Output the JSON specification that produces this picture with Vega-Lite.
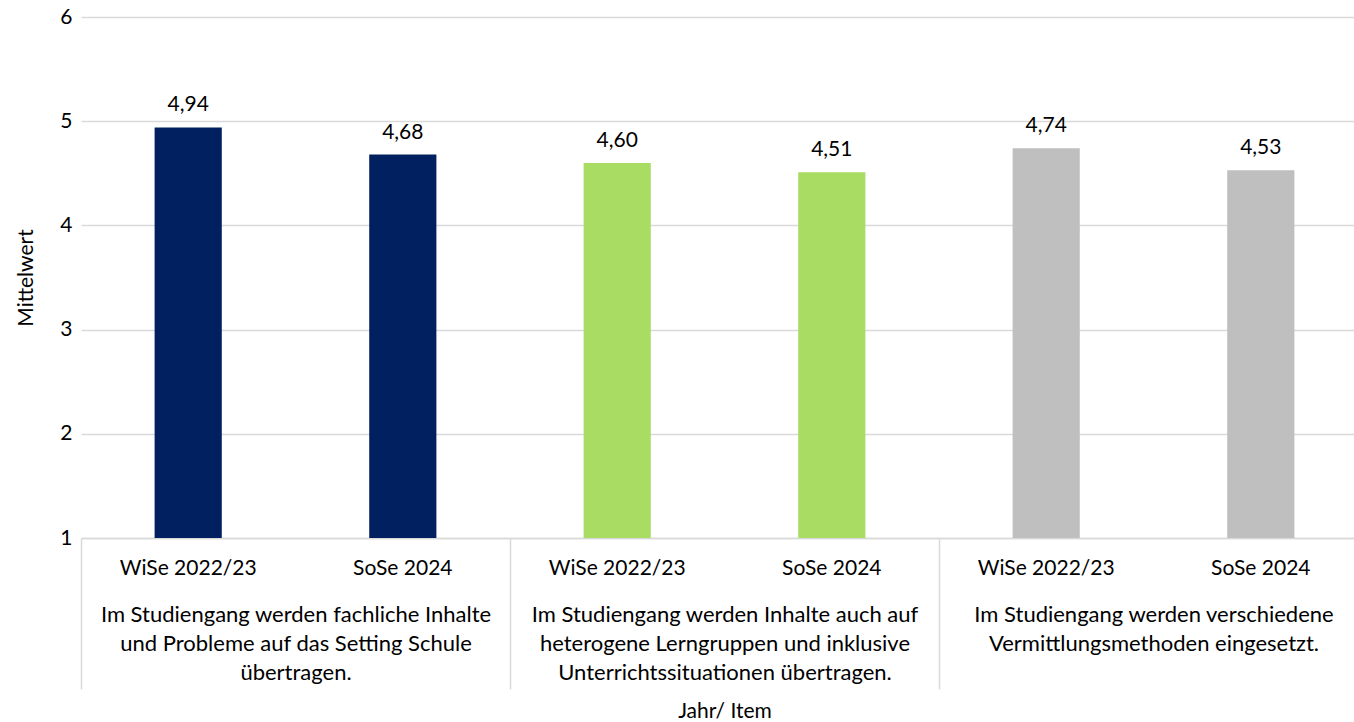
{
  "$schema": "https://vega.github.io/schema/vega-lite/v6.json",
  "width": 1287,
  "height": 521,
  "autosize": {"type": "none"},
  "padding": {"left": 81, "top": 17, "right": 0, "bottom": 184},
  "background": "white",
  "config": {
    "view": {"stroke": null},
    "font": "Lato",
    "axis": {"titleFontSize": 21, "labelFontSize": 21, "titleFontWeight": "normal", "titleColor": "black", "labelColor": "black"},
    "locale": {"number": {"decimal": ",", "thousands": ".", "grouping": [3], "currency": ["", " €"]}}
  },
  "data": {
    "values": [
      {"item": "Im Studiengang werden fachliche Inhalte|und Probleme auf das Setting Schule|übertragen.", "jahr": "WiSe 2022/23", "wert": 4.94, "gruppe": "A"},
      {"item": "Im Studiengang werden fachliche Inhalte|und Probleme auf das Setting Schule|übertragen.", "jahr": "SoSe 2024", "wert": 4.68, "gruppe": "A"},
      {"item": "Im Studiengang werden Inhalte auch auf|heterogene Lerngruppen und inklusive|Unterrichtssituationen übertragen.", "jahr": "WiSe 2022/23", "wert": 4.60, "gruppe": "B"},
      {"item": "Im Studiengang werden Inhalte auch auf|heterogene Lerngruppen und inklusive|Unterrichtssituationen übertragen.", "jahr": "SoSe 2024", "wert": 4.51, "gruppe": "B"},
      {"item": "Im Studiengang werden verschiedene|Vermittlungsmethoden eingesetzt.", "jahr": "WiSe 2022/23", "wert": 4.74, "gruppe": "C"},
      {"item": "Im Studiengang werden verschiedene|Vermittlungsmethoden eingesetzt.", "jahr": "SoSe 2024", "wert": 4.53, "gruppe": "C"}
    ]
  },
  "encoding": {
    "x": {
      "field": "item", "type": "nominal", "sort": null,
      "scale": {"paddingInner": 0, "paddingOuter": 0},
      "axis": {
        "title": "Jahr/ Item",
        "titlePadding": 11,
        "labelAngle": 0,
        "labelBaseline": "top",
        "labelFontSize": 22,
        "labelExpr": "split(datum.label, '|')",
        "labelLineHeight": 29,
        "labelPadding": -85,
        "labelLimit": 0,
        "tickBand": "extent", "tickSize": 151, "tickColor": "#d9d9d9", "tickWidth": 1.5,
        "domainColor": "#d9d9d9", "domainWidth": 1.5,
        "grid": false
      }
    },
    "xOffset": {"field": "jahr", "type": "nominal", "sort": ["WiSe 2022/23", "SoSe 2024"],
      "scale": {"paddingInner": 0.687, "paddingOuter": 0.343}}
  },
  "layer": [
    {
      "mark": {"type": "bar"},
      "encoding": {
        "y": {
          "field": "wert", "type": "quantitative",
          "scale": {"domain": [1, 6], "nice": false, "zero": false},
          "axis": {
            "title": "Mittelwert", "titlePadding": 23,
            "values": [1, 2, 3, 4, 5, 6], "format": "d",
            "labelPadding": 9,
            "domain": false, "ticks": false,
            "gridColor": "#d9d9d9", "gridWidth": 1.5
          }
        },
        "y2": {"datum": 1},
        "color": {"field": "gruppe", "type": "nominal", "legend": null,
          "scale": {"domain": ["A", "B", "C"], "range": ["#00205f", "#a9dc62", "#bfbfbf"]}}
      }
    },
    {
      "mark": {"type": "text", "baseline": "bottom", "dy": -12, "fontSize": 21, "color": "black"},
      "encoding": {
        "y": {"field": "wert", "type": "quantitative"},
        "text": {"field": "wert", "type": "quantitative", "format": ".2f"}
      }
    },
    {
      "mark": {"type": "text", "baseline": "middle", "dy": 31, "fontSize": 21, "color": "black"},
      "encoding": {
        "y": {"datum": 1},
        "text": {"field": "jahr", "type": "nominal"}
      }
    }
  ]
}
